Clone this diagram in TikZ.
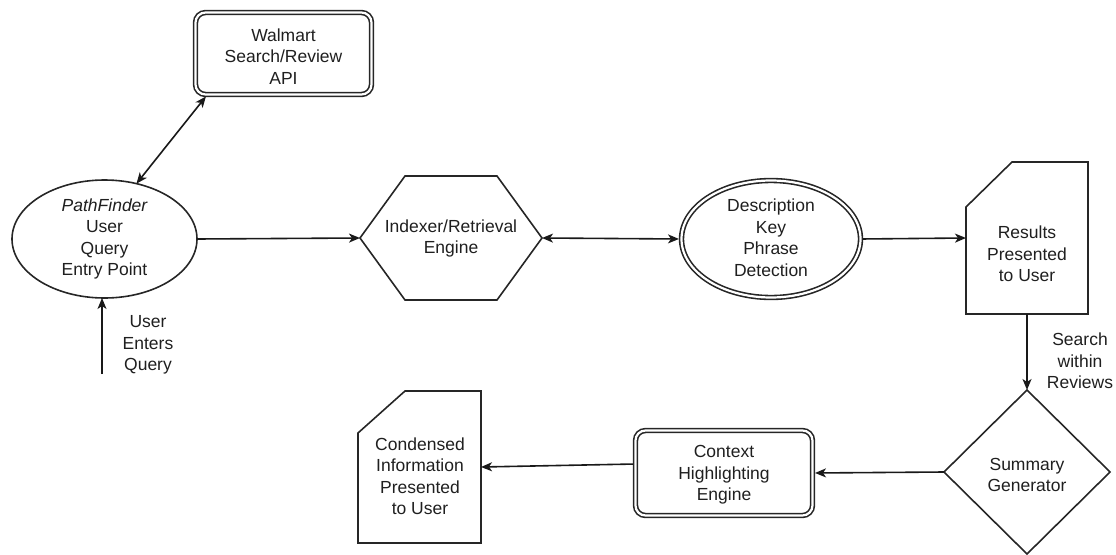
\documentclass[tikz,border=0pt]{standalone}
\usepackage{fontspec}
\setmainfont{Liberation Sans}
\usetikzlibrary{shapes.geometric,arrows.meta,calc}
\tikzset{
  lbl/.style={font=\fontsize{17.5}{21.5}\selectfont, align=center, inner sep=0pt, text=black!88},
  plain/.style={draw=black!85, line width=1.6pt},
  dbl/.style={draw=black!85, line width=1.6pt, double=white, double distance=2.2pt},
  ghost/.style={inner sep=0pt, outer sep=0pt},
  arr/.style={draw=black!90, line width=1.6pt, -{Stealth[length=11pt,width=9pt,inset=3pt]}},
  darr/.style={draw=black!90, line width=1.6pt, {Stealth[length=11pt,width=9pt,inset=3pt]}-{Stealth[length=11pt,width=9pt,inset=3pt]}},
}
\begin{document}
\begin{tikzpicture}[x=1pt,y=-1pt]
\useasboundingbox (0,0) rectangle (1116,554);

% Walmart API box
\node[dbl, rounded corners=10pt, ghost, minimum width=176pt, minimum height=82pt] (api) at (283.5,53.5) {};
\node[lbl] (apit) at (283.5,56.5) {Walmart\\Search/Review\\API};

% entry point ellipse
\node[plain, ellipse, ghost, minimum width=185pt, minimum height=118pt] (pf) at (104.5,239) {};
\node[lbl] (pft) at (104.5,239) {\itshape PathFinder\\User\\Query\\Entry Point};

% indexer hexagon
\node[ghost, minimum width=182pt, minimum height=124pt] (idx) at (451,238) {};
\draw[plain] (idx.west) -- ($(idx.north west)+(45,0)$) -- ($(idx.north east)+(-45,0)$)
  -- (idx.east) -- ($(idx.south east)+(-45,0)$) -- ($(idx.south west)+(45,0)$) -- cycle;
\node[lbl] (idxt) at (451,238.5) {Indexer/Retrieval\\Engine};

% key phrase detection (double ellipse)
\node[dbl, ellipse, ghost, minimum width=179pt, minimum height=117pt] (desc) at (771,239) {};
\node[lbl] (desct) at (771,237.5) {Description\\Key\\Phrase\\Detection};

% results document
\node[ghost, minimum width=122pt, minimum height=152pt] (res) at (1027,238) {};
\draw[plain] (res.south west) -- ($(res.north west)+(0,45)$) -- ($(res.north west)+(46,0)$)
  -- (res.north east) -- (res.south east) -- cycle;
\node[lbl] (rest) at (1027,254) {Results\\Presented\\to User};

% summary diamond
\node[plain, diamond, ghost, minimum width=166pt, minimum height=164pt] (sum) at (1027,472) {};
\node[lbl] (sumt) at (1027,475) {Summary\\Generator};

% context highlighting box
\node[dbl, rounded corners=10pt, ghost, minimum width=177pt, minimum height=85pt] (ctx) at (724,473) {};
\node[lbl] (ctxt) at (724,475) {Context\\Highlighting\\Engine};

% condensed information document
\node[ghost, minimum width=123pt, minimum height=152pt] (cond) at (419.5,467) {};
\draw[plain] (cond.south west) -- ($(cond.north west)+(0,42)$) -- ($(cond.north west)+(47,0)$)
  -- (cond.north east) -- (cond.south east) -- cycle;
\node[lbl] (condt) at (420,476) {Condensed\\Information\\Presented\\to User};

% connectors
\coordinate (uq) at (102,374);
\draw[arr] (uq) -- (uq |- pf.south);
\node[lbl] (uqt) at (148,345) {User\\Enters\\Query};

\draw[darr, shorten >=2.5pt] (pf.60) -- ($(api.south west)+(12,0)$);
\draw[arr] (pf.east) -- (idx.west);
\draw[darr, shorten >=2.5pt] (idx.east) -- (desc.west);
\draw[arr, shorten <=2.5pt] (desc.east) -- (res.west);
\draw[arr] (res.south) -- (sum.north);
\node[lbl] (srt) at (1080,361) {Search\\within\\Reviews};
\draw[arr, shorten >=2.5pt] (sum.west) -- (ctx.east);
\draw[arr, shorten <=2.5pt] ($(ctx.west)+(0,-9)$) -- (cond.east);
\end{tikzpicture}
\end{document}
